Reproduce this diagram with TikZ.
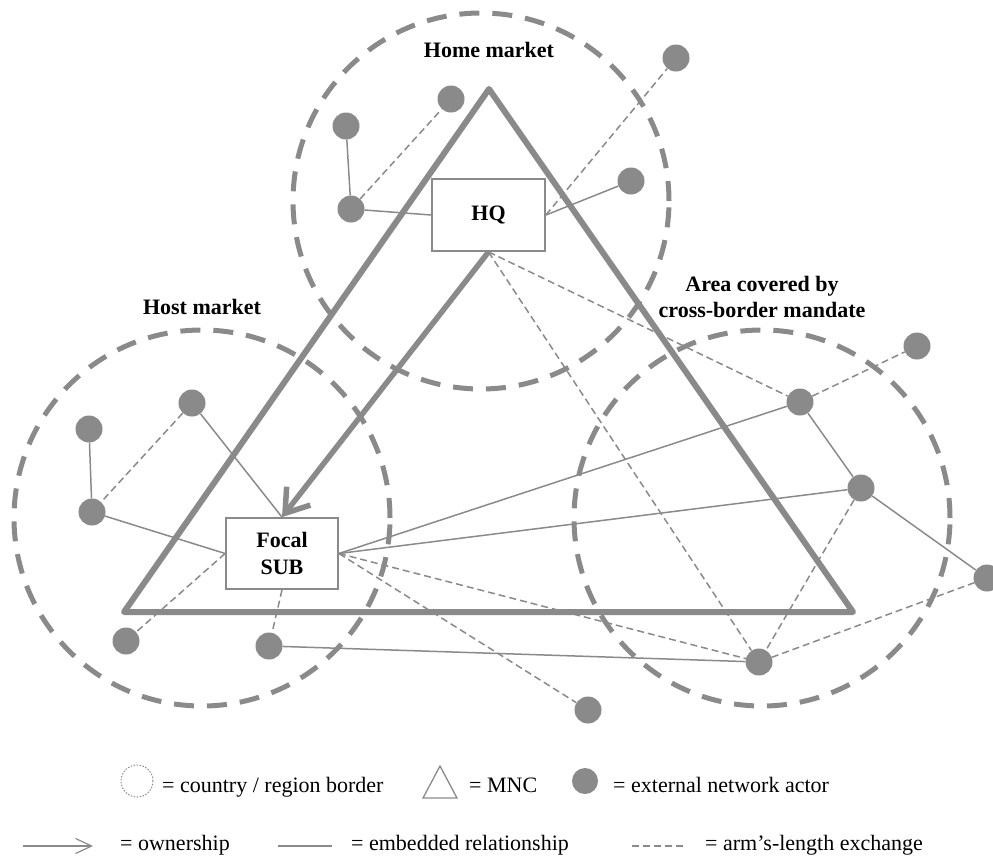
\documentclass[tikz,border=0pt]{standalone}
\usepackage{fontspec}
\setmainfont{Liberation Serif}
\usetikzlibrary{arrows.meta,positioning}
\definecolor{netgray}{RGB}{138,138,138}

\begin{document}
\begin{tikzpicture}[
		x=1pt, y=-1pt,
		font=\fontsize{22}{26}\selectfont,
		border/.style={netgray, line width=5pt, dash pattern=on 20pt off 13pt},
		mnc/.style={netgray, line width=6pt, line join=round},
		box/.style={draw=netgray, line width=1.8pt, fill=white, minimum width=113pt, minimum height=72pt, align=center, font=\fontsize{22}{27}\selectfont\bfseries},
		actor/.style={circle, fill=netgray, minimum size=27pt, inner sep=0pt},
		region/.style={align=center, font=\fontsize{22}{26}\selectfont\bfseries},
		tie/.style={netgray, line width=1.5pt},
		arm/.style={netgray, line width=1.5pt, dash pattern=on 7pt off 4pt},
		own/.style={netgray, line width=5.5pt, -{Straight Barb[length=22pt, width=30pt]}},
		key/.style={anchor=base west, inner sep=0pt},
	]
		\useasboundingbox (0,0) rectangle (993,857);

		% country / region borders
		\coordinate (home) at (481,201);
		\coordinate (host) at (202,518);
		\coordinate (area) at (762,518);
		\draw[border] (home) circle[radius=188pt];
		\draw[border] (host) circle[radius=188pt];
		\draw[border] (area) circle[radius=188pt];

		% the MNC
		\coordinate (top) at (489,89);
		\coordinate (bl) at (124,612);
		\coordinate (br) at (853,612);
		\draw[mnc] (top) -- (br) -- (bl) -- cycle;

		\node (homelbl) [region] at (489,50) {Home market};
		\node (hostlbl) [region] at (202,307) {Host market};
		\node (arealbl) [region] at (762,297) {Area covered by\\cross-border mandate};

		\node (hq) [box] at (488.5,215) {HQ};
		\node (sub) [box, minimum width=112pt, minimum height=71pt] at (282,553.5) {Focal\\SUB};

		\node (home1) [actor] at (346,126) {};
		\node (home2) [actor] at (451,99) {};
		\node (home3) [actor] at (351,209) {};
		\node (home4) [actor] at (631,181) {};
		\node (home5) [actor] at (676,58) {};
		\node (host1) [actor] at (89,429) {};
		\node (host2) [actor] at (192,403) {};
		\node (host3) [actor] at (92,512) {};
		\node (host4) [actor] at (126,641) {};
		\node (host5) [actor] at (269,646) {};
		\node (area1) [actor] at (800,402) {};
		\node (area2) [actor] at (861,488) {};
		\node (area3) [actor] at (759,662) {};
		\node (area4) [actor] at (917,346) {};
		\node (area5) [actor] at (987,578) {};
		\node (ext) [actor] at (588,710) {};

		% embedded relationships
		\draw[tie] (home1) -- (home3);
		\draw[tie] (home3) -- (hq.west);
		\draw[tie] (hq.east) -- (home4);
		\draw[tie] (host1) -- (host3);
		\draw[tie] (host3) -- (sub.west);
		\draw[tie] (host2) -- (sub.north);
		\draw[tie] (sub.east) -- (area1);
		\draw[tie] (sub.east) -- (area2);
		\draw[tie] (host5) -- (area3);
		\draw[tie] (area1) -- (area2);
		\draw[tie] (area2) -- (area5);

		% arm's-length exchange
		\draw[arm] (home3) -- (home2);
		\draw[arm] (hq.east) -- (home5);
		\draw[arm] (hq.south) -- (area1);
		\draw[arm] (hq.south) -- (area3);
		\draw[arm] (area1) -- (area4);
		\draw[arm] (area2) -- (area3);
		\draw[arm] (area3) -- (area5);
		\draw[arm] (sub.east) -- (area3);
		\draw[arm] (sub.east) -- (ext);
		\draw[arm] (sub.west) -- (host4);
		\draw[arm] (sub.south) -- (host5);
		\draw[arm] (host2) -- (host3);

		% ownership
		\draw[own] (hq.south) -- (sub.north);

		% key
		\node (kborder) [circle, draw=netgray, line width=1pt, dash pattern=on 1.5pt off 1.5pt, minimum size=32pt, inner sep=0pt] at (137,781) {};
		\node (kborderlbl) [key] at (162,792) {= country / region border};
		\coordinate (kmnc1) at (440,766);
		\coordinate (kmnc2) at (457,798);
		\coordinate (kmnc3) at (423,798);
		\draw[netgray, line width=1.3pt] (kmnc1) -- (kmnc2) -- (kmnc3) -- cycle;
		\node (kmnclbl) [key] at (469,792) {= MNC};
		\node (kactor) [actor, minimum size=26pt] at (585,781) {};
		\node (kactorlbl) [key] at (613,792) {= external network actor};

		\coordinate (kown1) at (23,846);
		\coordinate (kown2) at (93,846);
		\draw[netgray, line width=1.2pt, -{Straight Barb[length=16pt, width=15pt]}] (kown1) -- (kown2);
		\node (kownlbl) [key] at (120,850) {= ownership};
		\coordinate (ktie1) at (278,846);
		\coordinate (ktie2) at (332,846);
		\draw[tie] (ktie1) -- (ktie2);
		\node (ktielbl) [key] at (351,850) {= embedded relationship};
		\coordinate (karm1) at (632,846);
		\coordinate (karm2) at (685,846);
		\draw[arm, line width=1.2pt] (karm1) -- (karm2);
		\node (karmlbl) [key] at (705,850) {= arm’s-length exchange};
	\end{tikzpicture}
\end{document}
